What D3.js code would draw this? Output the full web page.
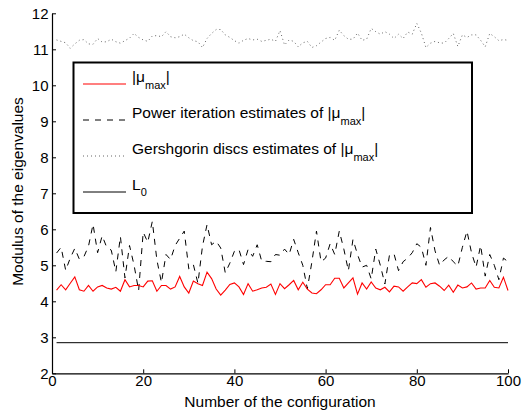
<!DOCTYPE html>
<html><head><meta charset="utf-8">
<script src="https://cdn.jsdelivr.net/npm/d3@7"></script>
<style>body{margin:0;background:#fff}svg{display:block;font-family:"Liberation Sans",Arial,sans-serif}</style>
</head><body><svg id="c" width="522" height="413"></svg>
<script>
const configs = d3.range(1, 101);
const muMax = [4.31,4.46,4.32,4.50,4.68,4.32,4.28,4.44,4.28,4.40,4.44,4.37,4.34,4.39,4.28,4.60,4.40,4.44,4.44,4.40,
4.56,4.57,4.28,4.44,4.44,4.34,4.40,4.69,4.40,4.23,4.56,4.49,4.44,4.81,4.63,4.34,4.17,4.31,4.47,4.51,
4.40,4.19,4.49,4.28,4.32,4.37,4.39,4.48,4.19,4.49,4.35,4.46,4.58,4.32,4.53,4.34,4.23,4.21,4.32,4.46,
4.46,4.64,4.64,4.37,4.51,4.65,4.20,4.51,4.34,4.54,4.37,4.32,4.39,4.26,4.42,4.40,4.28,4.40,4.51,4.49,
4.60,4.39,4.49,4.51,4.42,4.30,4.45,4.25,4.45,4.37,4.40,4.51,4.34,4.37,4.37,4.58,4.39,4.37,4.67,4.30];
const powerEst = [5.34,5.50,4.86,5.20,5.47,5.17,5.24,5.53,6.14,5.35,5.82,5.50,5.42,4.82,5.80,4.65,5.55,5.00,4.30,5.92,
5.64,6.22,5.15,4.52,5.30,5.16,5.55,5.75,5.95,4.90,5.02,4.50,5.53,6.13,5.57,5.67,5.48,4.79,5.06,5.39,
5.44,5.02,5.44,5.25,5.57,5.11,5.11,5.10,5.30,5.28,5.45,5.30,5.72,5.35,5.00,4.35,5.10,5.95,5.10,5.20,
5.60,5.30,5.95,5.45,4.85,5.72,5.30,4.95,5.00,4.62,5.45,5.00,4.48,5.28,5.32,4.85,5.10,5.20,5.35,5.60,
5.50,5.00,6.05,5.40,5.00,5.15,5.25,5.10,4.98,5.50,5.95,5.35,4.95,5.55,4.70,5.30,5.00,4.60,5.20,5.10];
const gershEst = [11.26,11.22,11.18,11.03,11.15,11.25,11.27,11.15,11.14,11.30,11.20,11.21,11.28,11.21,11.17,11.24,11.31,11.44,11.33,11.26,
11.22,11.37,11.38,11.35,11.49,11.35,11.32,11.35,11.42,11.32,11.24,11.21,11.05,11.30,11.44,11.55,11.55,11.40,11.33,11.24,
11.17,11.25,11.30,11.26,11.28,11.22,11.25,11.28,11.22,11.52,11.12,11.26,11.22,11.07,11.18,11.22,11.05,11.10,11.20,11.30,
11.33,11.25,11.53,11.38,11.28,11.28,11.45,11.25,11.28,11.58,11.49,11.42,11.49,11.42,11.30,11.42,11.30,11.48,11.42,11.72,
11.45,11.05,11.17,11.22,11.18,11.17,11.30,11.44,11.08,11.40,11.33,11.40,11.40,11.25,11.07,11.44,11.35,11.24,11.27,11.25];
const L0 = 2.85;
const xTicks = [0,20,40,60,80,100];
const yTicks = [2,3,4,5,6,7,8,9,10,11,12];
const legendLabels = ["|μ","Power iteration estimates of |μ","Gershgorin discs estimates of |μ","L"];

const svg = d3.select("#c");
const x = d3.scaleLinear().domain([0,100]).range([52,508]);
const y = d3.scaleLinear().domain([2,12]).range([373.3,13.3]);

// axes
const xAxis = svg.append("g").attr("transform",`translate(0,${y(2)})`)
  .call(d3.axisBottom(x).tickValues(xTicks).tickSize(-4).tickPadding(1.5).tickSizeOuter(0));
const yAxis = svg.append("g").attr("transform",`translate(${x(0)},0)`)
  .call(d3.axisLeft(y).tickValues(yTicks).tickSize(-4).tickPadding(3.5).tickSizeOuter(0));
[xAxis,yAxis].forEach(g=>{
  g.select(".domain").attr("stroke","#000").attr("stroke-width",1.2);
  g.selectAll(".tick line").attr("stroke","#000");
  g.selectAll(".tick text").attr("font-size",15).attr("fill","#000").attr("font-family","Liberation Sans, Arial, sans-serif");
});
xAxis.selectAll(".tick text").attr("dy","0.72em");

const line = d3.line().x((d,i)=>x(configs[i])).y(d=>y(d));
svg.append("path").datum(gershEst).attr("d",line).attr("fill","none")
  .attr("stroke","#555").attr("stroke-width",0.9).attr("stroke-dasharray","1,3");
svg.append("path").datum(powerEst).attr("d",line).attr("fill","none")
  .attr("stroke","#000").attr("stroke-width",1).attr("stroke-dasharray","6,6");
svg.append("path").datum(muMax).attr("d",line).attr("fill","none")
  .attr("stroke","#f00").attr("stroke-width",1.1);
svg.append("line").attr("x1",x(1)).attr("x2",x(100)).attr("y1",y(L0)).attr("y2",y(L0))
  .attr("stroke","#000").attr("stroke-width",1);

// legend
const lg = svg.append("g");
lg.append("rect").attr("x",73.5).attr("y",62.5).attr("width",398.5).attr("height",150.5)
  .attr("fill","#fff").attr("stroke","#000").attr("stroke-width",2);
const rowsY = [84,120,156,192];
const styles = [
  {stroke:"#f00",dash:null,w:1.1},
  {stroke:"#000",dash:"6,6",w:1},
  {stroke:"#555",dash:"1,3",w:0.9},
  {stroke:"#000",dash:null,w:1}
];
rowsY.forEach((ry,i)=>{
  lg.append("line").attr("x1",83).attr("x2",126).attr("y1",ry).attr("y2",ry)
    .attr("stroke",styles[i].stroke).attr("stroke-width",styles[i].w)
    .attr("stroke-dasharray",styles[i].dash);
  const t = lg.append("text").attr("x",132).attr("y",ry-2).attr("font-size",15.5).attr("fill","#000");
  t.append("tspan").text(legendLabels[i]);
  if(i<3){
    t.append("tspan").attr("font-size",11).attr("dy",7).text("max");
    t.append("tspan").attr("dy",-7).text("|");
  } else {
    t.append("tspan").attr("font-size",11).attr("dy",6).text("0");
  }
});

svg.append("text").attr("x",280).attr("y",407).attr("text-anchor","middle")
  .attr("font-size",15.5).attr("fill","#000").text("Number of the configuration");
svg.append("text").attr("transform","translate(23,191.5) rotate(-90)").attr("text-anchor","middle")
  .attr("font-size",15.5).attr("fill","#000").text("Modulus of the eigenvalues");
</script></body></html>
